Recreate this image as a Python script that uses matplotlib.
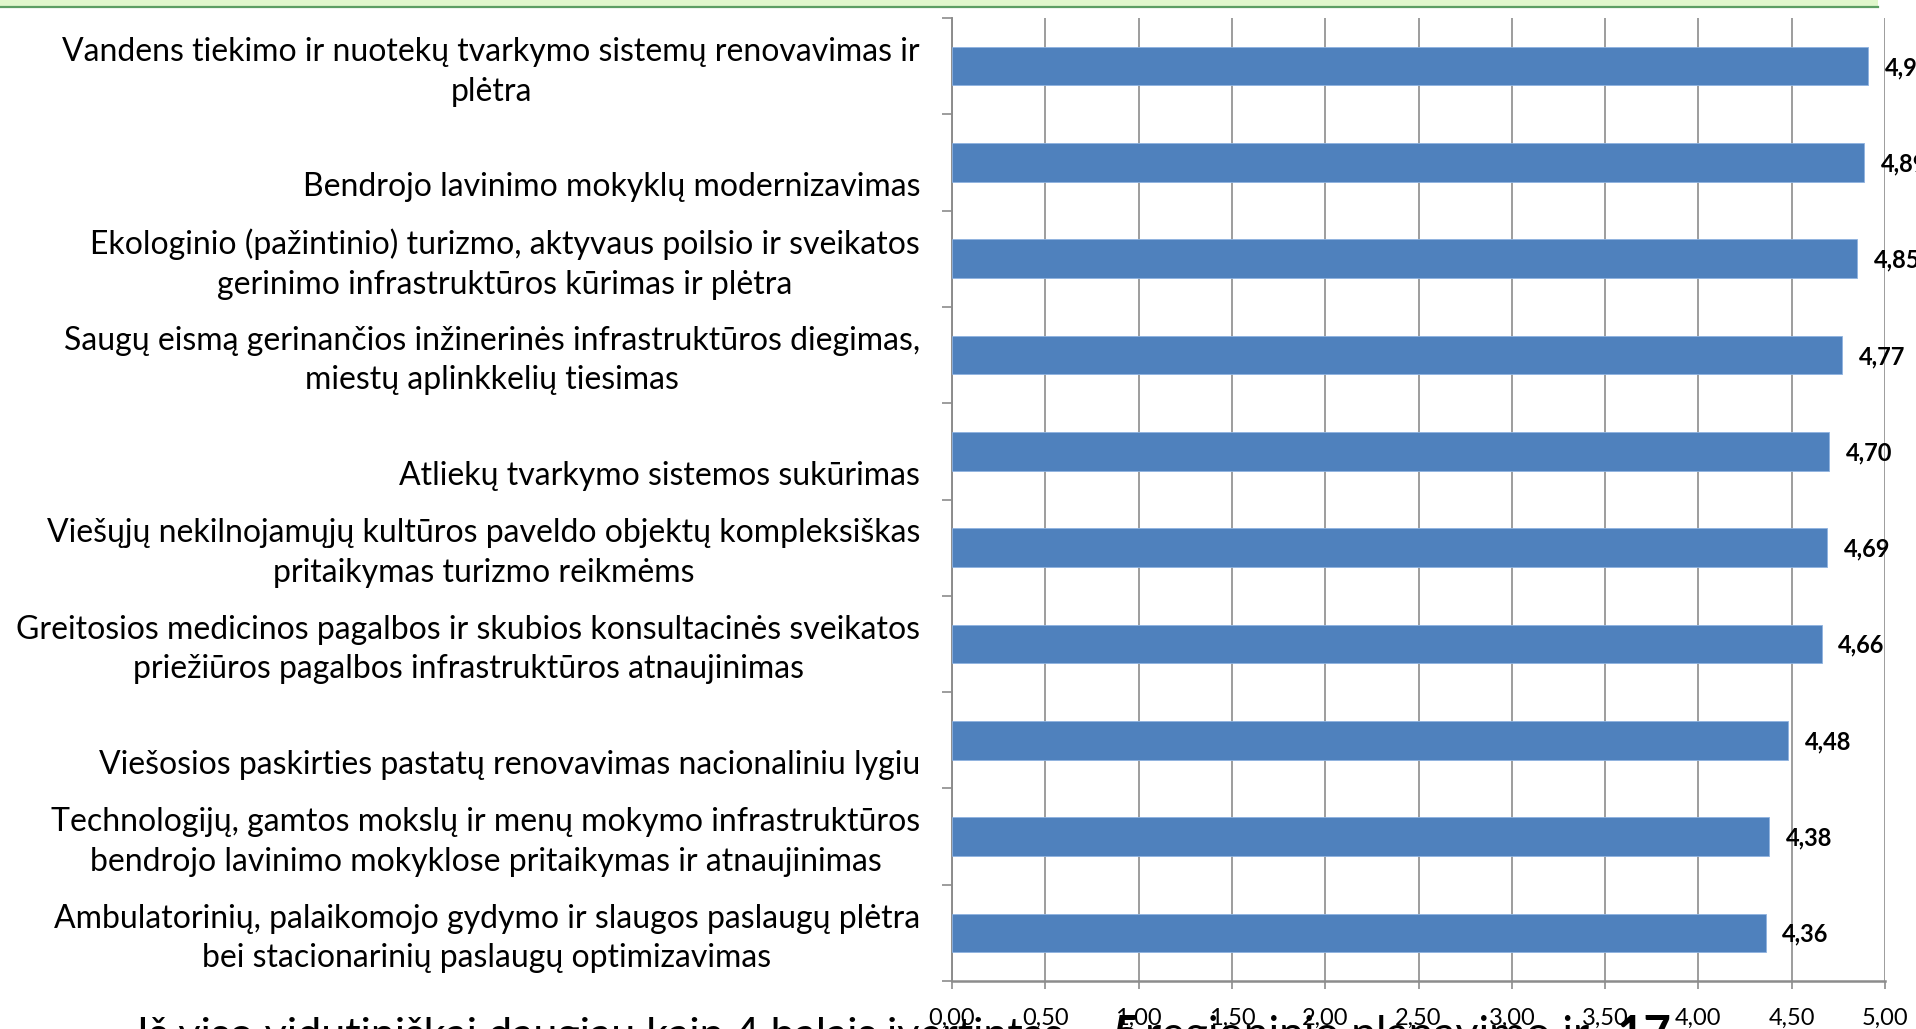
import matplotlib.pyplot as plt
from matplotlib.patches import Rectangle
from matplotlib.lines import Line2D

plt.rcParams['font.family'] = ['Lato', 'DejaVu Sans']

# Data
kategorijos = [
    'Vandens tiekimo ir nuotekų tvarkymo sistemų renovavimas ir\nplėtra',
    'Bendrojo lavinimo mokyklų modernizavimas',
    'Ekologinio (pažintinio) turizmo, aktyvaus poilsio ir sveikatos\ngerinimo infrastruktūros kūrimas ir plėtra',
    'Saugų eismą gerinančios inžinerinės infrastruktūros diegimas,\nmiestų aplinkkelių tiesimas',
    'Atliekų tvarkymo sistemos sukūrimas',
    'Viešųjų nekilnojamųjų kultūros paveldo objektų kompleksiškas\npritaikymas turizmo reikmėms',
    'Greitosios medicinos pagalbos ir skubios konsultacinės sveikatos\npriežiūros pagalbos infrastruktūros atnaujinimas',
    'Viešosios paskirties pastatų renovavimas nacionaliniu lygiu',
    'Technologijų, gamtos mokslų ir menų mokymo infrastruktūros\nbendrojo lavinimo mokyklose pritaikymas ir atnaujinimas',
    'Ambulatorinių, palaikomojo gydymo ir slaugos paslaugų plėtra\nbei stacionarinių paslaugų optimizavimas',
]
vertinimai = [4.91, 4.89, 4.85, 4.77, 4.70, 4.69, 4.66, 4.48, 4.38, 4.36]
x_ticks = [0, 0.5, 1, 1.5, 2, 2.5, 3, 3.5, 4, 4.5, 5]
apacios_tekstas = ['Iš viso vidutiniškai daugiau kaip 4 balais įvertintas', '5',
                   'regioninio planavimo ir', '17']

W, H = 1916, 1029
fig = plt.figure(figsize=(W / 100, H / 100), dpi=100)
ax = fig.add_axes([952 / W, 1 - 981 / H, (1885 - 952) / W, (981 - 18) / H])

n = len(kategorijos)
pozicijos = list(range(n))
ax.barh(pozicijos, vertinimai, height=0.4, color='#4f81bd', edgecolor='#8fb3e0', linewidth=0.6, zorder=3)
ax.set_ylim(n - 0.5, -0.5)
ax.set_xlim(0, 5)

# vertikalus tinklelis
ax.set_xticks(x_ticks)
ax.set_xticklabels([f'{t:.2f}'.replace('.', ',') for t in x_ticks], fontsize=17)
ax.grid(axis='x', color='#8c8c8c', linewidth=1.2, zorder=0)
ax.tick_params(axis='x', direction='out', length=6, width=1.2, color='#8c8c8c', pad=13)

# y ašies žymės tarp kategorijų
ax.set_yticks([p - 0.5 for p in pozicijos] + [n - 0.5])
ax.set_yticklabels([])
ax.tick_params(axis='y', direction='out', length=7, width=1.2, color='#8c8c8c')

for s in ['top', 'right']:
    ax.spines[s].set_visible(False)
ax.spines['left'].set_color('#8c8c8c')
ax.spines['left'].set_linewidth(1.4)
ax.spines['bottom'].set_color('#8c8c8c')
ax.spines['bottom'].set_linewidth(1.8)

# kategorijų pavadinimai
for p, k in zip(pozicijos, kategorijos):
    dy = -4 if '\n' in k else -18
    ax.annotate(k, xy=(0, p), xycoords=ax.get_yaxis_transform(),
                xytext=(-23, dy), textcoords='offset points',
                ha='right', va='center', multialignment='center',
                fontsize=23, linespacing=1.4, annotation_clip=False)

# reikšmės
for p, v in zip(pozicijos, vertinimai):
    ax.annotate(f'{v:.2f}'.replace('.', ','), xy=(v, p), xytext=(12, -1),
                textcoords='offset points', ha='left', va='center',
                fontsize=17, fontweight='bold', annotation_clip=False)

# žalia juosta viršuje
fig.add_artist(Rectangle((0, 1 - 6 / H), 1878 / W, 6 / H, transform=fig.transFigure,
                         facecolor='#e0f7cc', edgecolor='none'))
fig.add_artist(Line2D([0, 1878 / W], [1 - 6.5 / H, 1 - 6.5 / H], transform=fig.transFigure,
                      color='#5c9e63', linewidth=1.6))

# apačioje nukirstas tekstas
x_poz = [137, 1113, 1145, 1617]
dydziai = [31, 34, 32, 34]
for txt, xp, fs in zip(apacios_tekstas, x_poz, dydziai):
    bold = txt.isdigit()
    fig.text(xp / W, 1 - (1050 if bold else 1048) / H, txt, ha='left', va='baseline',
             fontsize=fs, fontweight='bold' if bold else 'normal')

plt.savefig('out.png', dpi=100)
